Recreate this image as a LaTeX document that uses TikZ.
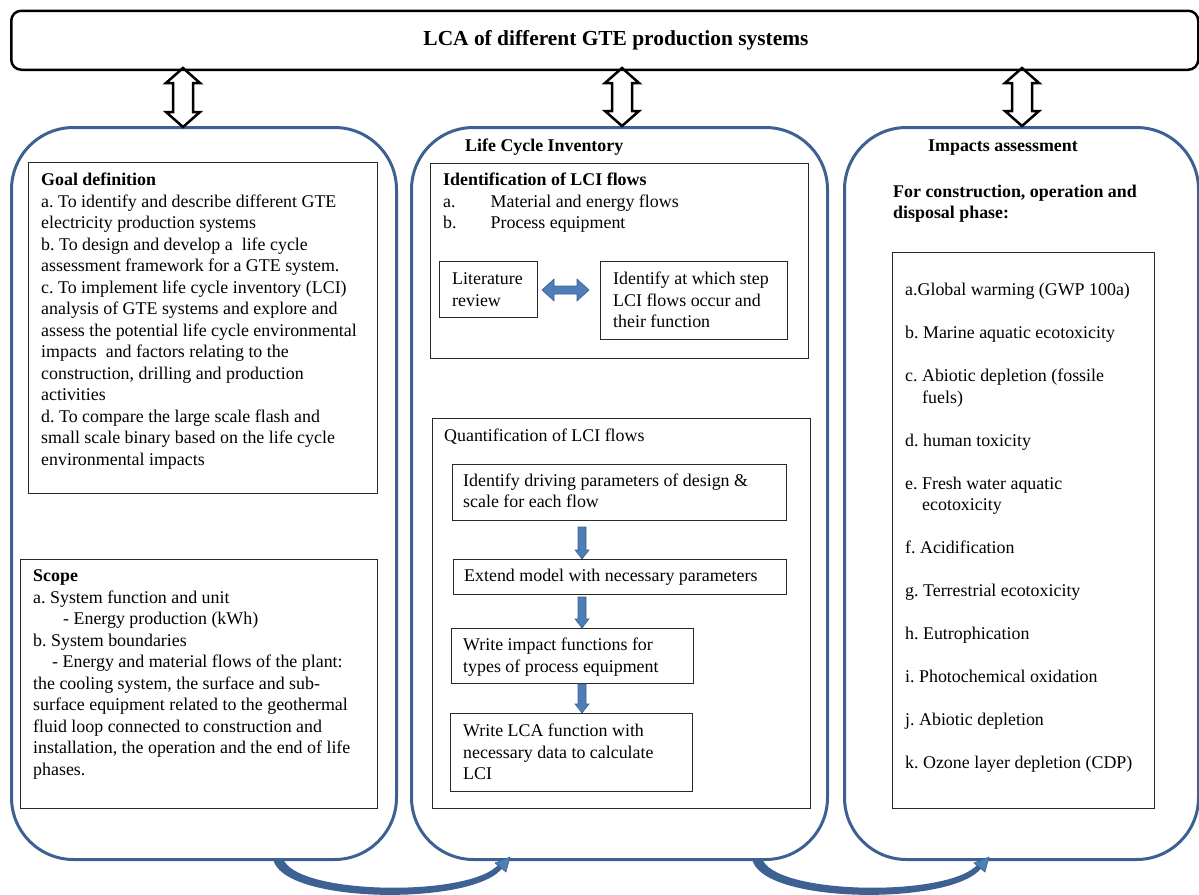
\documentclass[tikz,border=0pt]{standalone}
\usepackage{fontspec}
\setmainfont{Liberation Serif}
\frenchspacing
\definecolor{panelblue}{RGB}{60,97,146}
\definecolor{arrowblue}{RGB}{79,125,183}
\definecolor{boxline}{RGB}{40,40,40}

% hollow vertical double arrow: x, ytop, ybottom
\newcommand\hollowdbl[3]{%
  \draw[line width=2.5pt, line join=miter]
    (#1,#2) -- (#1+17,#2+15) -- (#1+10,#2+15) -- (#1+10,#3-15) -- (#1+17,#3-15)
    -- (#1,#3) -- (#1-17,#3-15) -- (#1-10,#3-15) -- (#1-10,#2+15) -- (#1-17,#2+15) -- cycle;}
% blue down arrow: x, ytop, ytip
\newcommand\bluedown[3]{%
  \filldraw[fill=arrowblue, draw=panelblue, line width=0.6pt]
    (#1-4,#2) -- (#1+4,#2) -- (#1+4,#3-9) -- (#1+7,#3-9) -- (#1,#3)
    -- (#1-7,#3-9) -- (#1-4,#3-9) -- cycle;}
% blue horizontal double arrow: xleft, xright, y
\newcommand\bluehdbl[3]{%
  \filldraw[fill=arrowblue, draw=panelblue, line width=0.6pt]
    (#1,#3) -- (#1+12,#3-11) -- (#1+12,#3-4) -- (#2-12,#3-4) -- (#2-12,#3-11)
    -- (#2,#3) -- (#2-12,#3+11) -- (#2-12,#3+4) -- (#1+12,#3+4) -- (#1+12,#3+11) -- cycle;}
% curved blue arrow under the panels: x of start
\newcommand\curvearr[1]{%
  \fill[panelblue] (#1,858) .. controls (#1+6,905) and (#1+205,906) .. (#1+230,867)
    -- (#1+226,864) .. controls (#1+198,898) and (#1+20,895) .. (#1+10,858) -- cycle;
  \fill[arrowblue, draw=panelblue, line width=0.6pt] (#1+237,857) -- (#1+222,863) -- (#1+233,872) -- cycle;}

\begin{document}
\begin{tikzpicture}[x=1pt,y=-1pt,
  txt/.style={anchor=north west, inner sep=0pt, align=left, font=\fontsize{17.9}{21.5}\selectfont},
  btxt/.style={txt, font=\fontsize{17.9}{21.5}\selectfont\bfseries},
  panel/.style={draw=panelblue, line width=3pt, rounded corners=62pt, anchor=north west, inner sep=0pt},
  box/.style={draw=boxline, line width=1.1pt, anchor=north west, inner sep=0pt},
  ]
\useasboundingbox (0,0) rectangle (1199,894);

% title
\node[draw=black, line width=2.5pt, rounded corners=10pt, anchor=north west,
      minimum width=1187pt, minimum height=59pt, inner sep=0pt] (title) at (10,9.5) {};
\node[font=\fontsize{21.4}{25}\selectfont\bfseries, inner sep=0pt] (titletext) at (616,40)
  {LCA of different GTE production systems};

% panels
\node[panel, minimum width=385pt, minimum height=732pt] (p1) at (10,126) {};
\node[panel, minimum width=416pt, minimum height=732pt] (p2) at (410,126) {};
\node[panel, minimum width=354pt, minimum height=732pt] (p3) at (843,126) {};

% hollow double arrows
\hollowdbl{183}{68}{127}
\hollowdbl{622}{68}{126}
\hollowdbl{1022}{68}{126}

% curved arrows at the bottom
\curvearr{273}
\curvearr{752}

% ---------- panel 1
\node[box, minimum width=349pt, minimum height=331pt] (goalbox) at (28,162) {};
\node[txt] (goaltext) at (41,170.5) {\strut\textbf{Goal definition}\\
a. To identify and describe different GTE\\
electricity production systems\\
b. To design and develop a\ \ life cycle\\
assessment framework for a GTE system.\\
c. To implement life cycle inventory (LCI)\\
analysis of GTE systems and explore and\\
assess the potential life cycle environmental\\
impacts\ \ and factors relating to the\\
construction, drilling and production\\
activities\\
d. To compare the large scale flash and\\
small scale binary based on the life cycle\\
environmental impacts};

\node[box, minimum width=357pt, minimum height=249pt] (scopebox) at (20,559) {};
\node[txt] (scopetext) at (33,566.5) {\strut\textbf{Scope}\\
a. System function and unit\\
\hspace*{30pt}- Energy production (kWh)\\
b. System boundaries\\
\hspace*{19pt}- Energy and material flows of the plant:\\
the cooling system, the surface and sub-\\
surface equipment related to the geothermal\\
fluid loop connected to construction and\\
installation, the operation and the end of life\\
phases.};

% ---------- panel 2
\node[btxt] (lcihead) at (465,136.5) {\strut Life Cycle Inventory};

\node[box, minimum width=378pt, minimum height=195pt] (identbox) at (430,163) {};
\node[txt] (identtext) at (443,170.5) {\strut\textbf{Identification of LCI flows}\\
\makebox[47.5pt][l]{a.}Material and energy flows\\
\makebox[47.5pt][l]{b.}Process equipment};

\node[box, minimum width=98pt, minimum height=56pt] (litbox) at (439,261) {};
\node[txt] (littext) at (452,269.5) {\strut Literature\\review};
\node[box, minimum width=187pt, minimum height=78pt] (stepbox) at (600,261) {};
\node[txt] (steptext) at (613,269.5) {\strut Identify at which step\\LCI flows occur and\\their function};
\bluehdbl{542}{589}{290}

\node[box, minimum width=378pt, minimum height=390pt] (quantbox) at (432,418) {};
\node[txt] (quanttext) at (444,426.5) {\strut Quantification of LCI flows};

\node[box, minimum width=334pt, minimum height=56pt] (q1) at (451.5,464) {};
\node[txt] (q1t) at (463,471) {\strut Identify driving parameters of design \&\\scale for each flow};
\node[box, minimum width=333pt, minimum height=35pt] (q2) at (452.5,559) {};
\node[txt] (q2t) at (464,566.5) {\strut Extend model with necessary parameters};
\node[box, minimum width=242pt, minimum height=55pt] (q3) at (451,628) {};
\node[txt] (q3t) at (463,635.5) {\strut Write impact functions for\\types of process equipment};
\node[box, minimum width=242pt, minimum height=78pt] (q4) at (450,713) {};
\node[txt] (q4t) at (463,721.5) {\strut Write LCA function with\\necessary data to calculate\\LCI};

\bluedown{582}{527}{559}
\bluedown{582}{597}{628}
\bluedown{582}{684}{713}

% ---------- panel 3
\node[btxt] (iahead) at (928,136.5) {\strut Impacts assessment};
\node[btxt] (phase) at (893,182) {\strut For construction, operation and\\disposal phase:};

\node[box, minimum width=262pt, minimum height=556pt] (impbox) at (892,252) {};
\node[txt] (imptext) at (905,280.5) {\strut a.Global warming (GWP 100a)\\[21.5pt]
b. Marine aquatic ecotoxicity\\[21.5pt]
c. Abiotic depletion (fossile\\
\hspace*{17pt}fuels)\\[21.5pt]
d. human toxicity\\[21.5pt]
e. Fresh water aquatic\\
\hspace*{17pt}ecotoxicity\\[21.5pt]
f. Acidification\\[21.5pt]
g. Terrestrial ecotoxicity\\[21.5pt]
h. Eutrophication\\[21.5pt]
i. Photochemical oxidation\\[21.5pt]
j. Abiotic depletion\\[21.5pt]
k. Ozone layer depletion (CDP)};

\end{tikzpicture}
\end{document}
